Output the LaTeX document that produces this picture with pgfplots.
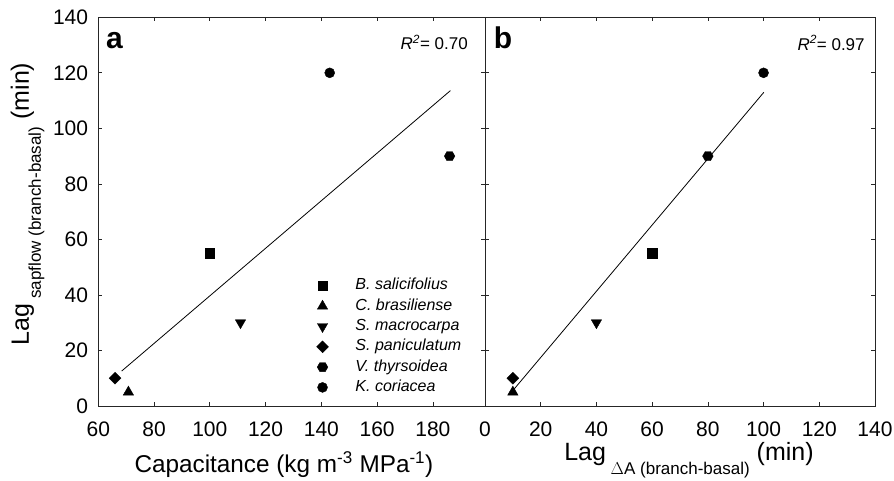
\documentclass[border=0pt]{standalone}
\usepackage{fontspec}
\setmainfont{Liberation Sans}
\usepackage{pgfplots}
\pgfplotsset{compat=1.18}
\pgfdeclareplotmark{hexagon*}{%
  \pgfpathmoveto{\pgfpointpolar{0}{\pgfplotmarksize}}%
  \pgfpathlineto{\pgfpointpolar{60}{\pgfplotmarksize}}%
  \pgfpathlineto{\pgfpointpolar{120}{\pgfplotmarksize}}%
  \pgfpathlineto{\pgfpointpolar{180}{\pgfplotmarksize}}%
  \pgfpathlineto{\pgfpointpolar{240}{\pgfplotmarksize}}%
  \pgfpathlineto{\pgfpointpolar{300}{\pgfplotmarksize}}%
  \pgfpathclose
  \pgfusepathqfillstroke}
\pgfplotsset{
  panel/.style={
    scale only axis, height=388.7pt, ymin=0, ymax=140, ytick={0,20,...,140},
    tick align=inside, major tick length=4pt,
    axis line style={line width=0.7pt, black!85},
    every tick/.style={black!85, line width=0.7pt},
    tick label style={font=\fontsize{21}{21}\selectfont},
    /pgf/number format/assume math mode=true,
    xticklabel style={inner sep=0pt, anchor=north, yshift=-16pt},
    yticklabel style={inner sep=0pt, anchor=east, xshift=-10pt},
    clip=false,
  },
  sq/.style={only marks, mark=square*, mark size=4.6pt, black},
  tu/.style={only marks, mark=triangle*, mark size=6pt, black},
  td/.style={only marks, mark=triangle*, mark size=6pt, black, mark options={rotate=180}},
  di/.style={only marks, mark=square*, mark size=4.2pt, black, mark options={rotate=45}},
  hx/.style={only marks, mark=hexagon*, mark size=5.3pt, black},
  ci/.style={only marks, mark=*, mark size=5pt, black},
  fit/.style={black, line width=0.8pt, no marks, forget plot},
}
\begin{document}
\begin{tikzpicture}
\useasboundingbox (-98.3pt,-74pt) rectangle (795.7pt,406pt);
% ---------- panel a ----------
\begin{axis}[panel, width=386.7pt, at={(0pt,0pt)}, anchor=south west,
  xmin=60, xmax=198.7, xtick={60,80,...,180},
  ylabel={Lag\raisebox{-12pt}{\fontsize{17}{17}\selectfont\ sapflow (branch-basal)} (min)},
  ylabel style={at={(axis description cs:-0.183,0.52)}, anchor=center, rotate=0, font=\fontsize{25}{25}\selectfont},
  xlabel={Capacitance (kg m\textsuperscript{-3} MPa\textsuperscript{-1})},
  xlabel style={at={(axis description cs:0.48,-0.172)}, anchor=base, font=\fontsize{24.3}{24.3}\selectfont},
  legend style={draw=none, fill=none, inner sep=0pt,
    at={(axis description cs:0.564,0.3275)}, anchor=north west,
    font=\itshape\fontsize{16}{16}\selectfont,
    nodes={inner sep=0pt, text height=11pt, text depth=3pt},
    row sep=6.3pt, column sep=27pt},
  legend cell align=left,
]
\addplot[fit] coordinates {(68.4,12.6) (186.3,113.6)};
\addplot[sq] coordinates {(100,55)}; \addlegendentry{B. salicifolius}
\addplot[tu] coordinates {(70.8,5)}; \addlegendentry{C. brasiliense}
\addplot[td] coordinates {(111,30)}; \addlegendentry{S. macrocarpa}
\addplot[di] coordinates {(66,10)}; \addlegendentry{S. paniculatum}
\addplot[hx] coordinates {(186,90)}; \addlegendentry{V. thyrsoidea}
\addplot[ci] coordinates {(143,120)}; \addlegendentry{K. coriacea}
\node[anchor=base west, inner sep=0pt, font=\bfseries\fontsize{30}{30}\selectfont] at (axis description cs:0.02,0.921) {a};
\node[anchor=east, inner sep=0pt, font=\fontsize{17}{17}\selectfont] at (axis description cs:0.956,0.936) {\textit{R}\textsuperscript{\textit{2}}= 0.70};
\end{axis}
% ---------- panel b ----------
\begin{axis}[panel, width=390pt, at={(386.7pt,0pt)}, anchor=south west,
  xmin=0, xmax=140, xtick={0,20,...,140}, yticklabels={},
  xlabel={Lag\raisebox{-14pt}{\fontsize{17}{17}\selectfont\ $\Delta$A (branch-basal)} (min)},
  xlabel style={at={(axis description cs:0.523,-0.139)}, anchor=base, font=\fontsize{25}{25}\selectfont},
]
\addplot[fit] coordinates {(10.2,5.8) (100.1,113)};
\addplot[sq] coordinates {(60,55)};
\addplot[tu] coordinates {(10,5)};
\addplot[td] coordinates {(40,30)};
\addplot[di] coordinates {(10,10)};
\addplot[hx] coordinates {(80,90)};
\addplot[ci] coordinates {(100,120)};
\node[anchor=base west, inner sep=0pt, font=\bfseries\fontsize{30}{30}\selectfont] at (axis description cs:0.022,0.921) {b};
\node[anchor=east, inner sep=0pt, font=\fontsize{17}{17}\selectfont] at (axis description cs:0.974,0.934) {\textit{R}\textsuperscript{\textit{2}}= 0.97};
\end{axis}
\end{tikzpicture}
\end{document}
